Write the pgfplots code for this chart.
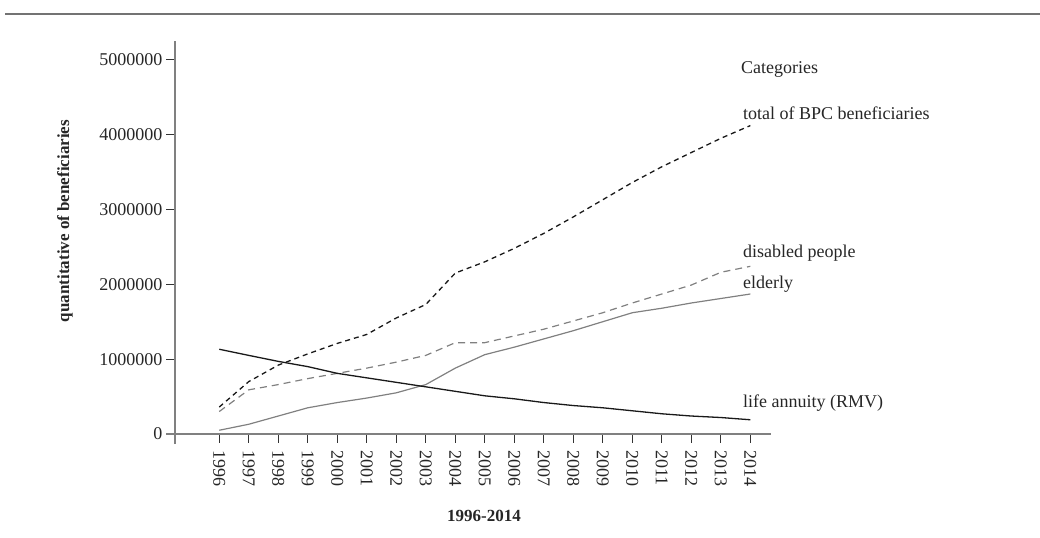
\documentclass[border=0pt]{standalone}
\usepackage{fontspec}
\setmainfont{Liberation Serif}
\usepackage{pgfplots}
\usepackage{pgfplotstable}
\pgfplotsset{compat=1.18}

\pgfplotstableread{
year total disabled elderly rmv
1996 360000 300000 50000 1132000
1997 700000 590000 130000 1050000
1998 920000 660000 240000 970000
1999 1070000 740000 350000 900000
2000 1210000 810000 420000 810000
2001 1330000 880000 480000 750000
2002 1550000 960000 550000 690000
2003 1730000 1050000 660000 630000
2004 2150000 1220000 880000 570000
2005 2300000 1220000 1060000 510000
2006 2480000 1310000 1160000 470000
2007 2680000 1400000 1270000 420000
2008 2900000 1510000 1380000 380000
2009 3130000 1620000 1500000 350000
2010 3360000 1750000 1620000 310000
2011 3570000 1870000 1680000 270000
2012 3760000 1990000 1750000 240000
2013 3950000 2160000 1810000 220000
2014 4120000 2240000 1870000 190000
}\datatable

\begin{document}
\begin{tikzpicture}[x=1bp,y=1bp]
\useasboundingbox (0,0) rectangle (1040,538);
\draw[color=black!55, line width=1.5bp] (5,524) -- (1040,524);
\begin{axis}[
  at={(175bp,104bp)}, anchor=south west,
  scale only axis, width=595.7bp, height=393bp,
  xmin=1994.5, xmax=2014.69, ymin=0, ymax=5250000,
  axis x line=bottom, axis y line=left,
  axis line style={draw=none},
  clip=false,
  scaled y ticks=false, scaled x ticks=false,
  xtick={1996,...,2014},
  xticklabels={1996,1997,1998,1999,2000,2001,2002,2003,2004,2005,2006,2007,2008,2009,2010,2011,2012,2013,2014},
  ytick={0,1000000,2000000,3000000,4000000,5000000},
  yticklabels={0,1000000,2000000,3000000,4000000,5000000},
  tick align=outside,
  major tick length=9bp,
  tick style={color=black!80, line width=0.8bp},
  xticklabel style={rotate=-90, anchor=west},
  xticklabel shift=4bp,
  font=\fontsize{18bp}{21bp}\selectfont,
  ticklabel style={font=\fontsize{18bp}{21bp}\selectfont, text=black!85},
]
\draw[color=black!50, line width=1.2bp] (axis cs:1994.2,0) -- (axis cs:2014.69,0);
\draw[color=black!50, line width=1.2bp] (axis cs:1994.5,-134000) -- (axis cs:1994.5,5254000);
\addplot[color=black!90, line width=1.3bp, dash pattern=on 5bp off 4bp] table[x=year, y=total] {\datatable};
\addplot[color=black!50, line width=1.2bp, dash pattern=on 7bp off 5bp] table[x=year, y=disabled] {\datatable};
\addplot[color=black!50, line width=1.2bp] table[x=year, y=elderly] {\datatable};
\addplot[color=black!90, line width=1.3bp] table[x=year, y=rmv] {\datatable};
\end{axis}
\begin{scope}[every node/.style={font=\fontsize{18bp}{21bp}\selectfont, text=black!85, inner sep=0pt}]
\node[anchor=west] at (741,469) {Categories};
\node[anchor=west] at (743,425) {total of BPC beneficiaries};
\node[anchor=west] at (743,285) {disabled people};
\node[anchor=west] at (743,254) {elderly};
\node[anchor=west] at (743,135) {life annuity (RMV)};
\node[rotate=90, font=\fontsize{17bp}{20bp}\selectfont\bfseries] at (65,317) {quantitative of beneficiaries};
\node[font=\fontsize{17bp}{20bp}\selectfont\bfseries] at (484,22) {1996-2014};
\end{scope}
\end{tikzpicture}
\end{document}
